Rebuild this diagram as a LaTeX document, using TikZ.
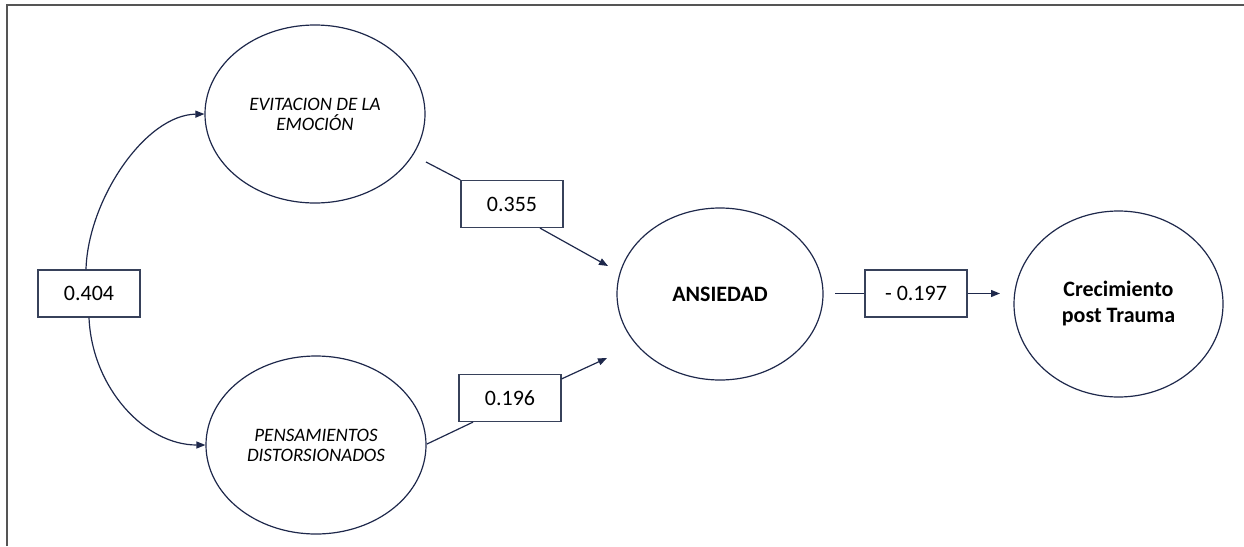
\documentclass[tikz,border=0pt]{standalone}
\usepackage{fontspec}
\setmainfont{Carlito}
\usetikzlibrary{shapes.geometric,arrows.meta}
\definecolor{ln}{RGB}{30,40,75}
\definecolor{bx}{RGB}{55,65,90}
\definecolor{fr}{RGB}{85,85,85}
\begin{document}
\begin{tikzpicture}[x=1pt,y=-1pt,
  lat/.style={ellipse, draw=ln, line width=1.2pt, inner sep=0pt, align=center},
  latit/.style={lat, minimum width=220pt, minimum height=178pt, font=\itshape\fontsize{19}{20}\selectfont},
  latbf/.style={lat, font=\bfseries\fontsize{22}{26}\selectfont},
  coef/.style={rectangle, draw=bx, line width=1.2pt, minimum width=102pt, minimum height=47pt, inner sep=0pt, font=\fontsize{22}{26}\selectfont},
  link/.style={draw=ln, line width=1.2pt},
  tip/.style={-{Triangle[length=9pt,width=7pt]}}]
\useasboundingbox (0,0) rectangle (1244,546);
\draw[fr, line width=1.2pt] (7,546) -- (7,5) -- (1244,5);

\node[latit] (evit) at (315,114) {EVITACION DE LA\\EMOCIÓN};
\node[latit] (pens) at (316,445) {PENSAMIENTOS\\DISTORSIONADOS};
\node[latbf, minimum width=206pt, minimum height=172pt] (ans) at (720,294) {ANSIEDAD};
\node[latbf, minimum width=209pt, minimum height=186pt] (crec) at (1118.5,304) {Crecimiento\\post Trauma};

\node[coef] (c404) at (89,293.5) {0.404};
\node[coef] (c355) at (512,204) {0.355};
\node[coef] (c196) at (510,398) {0.196};
\node[coef] (c197) at (916,293.5) {- 0.197};

\coordinate (e1) at (426,162);
\coordinate (t1) at (608,266);
\coordinate (p1) at (427,444);
\coordinate (t2) at (607,358);
\coordinate (a1) at (835,293.5);
\coordinate (t3) at (1000,293.5);

\draw[link] (e1) -- (c355.north west);
\draw[link,tip] ([xshift=28pt]c355.south) -- (t1);
\draw[link] (p1) -- ([xshift=-37pt]c196.south);
\draw[link,tip] ([yshift=-5pt]c196.north east) -- (t2);
\draw[link] (a1) -- (c197.west);
\draw[link,tip] (c197.east) -- (t3);

\draw[link,tip] ([xshift=-3pt]c404.north) .. controls (88,200) and (145,115) .. (evit.west);
\draw[link,tip] (c404.south) .. controls (92,388) and (145,445) .. (pens.west);
\end{tikzpicture}
\end{document}
